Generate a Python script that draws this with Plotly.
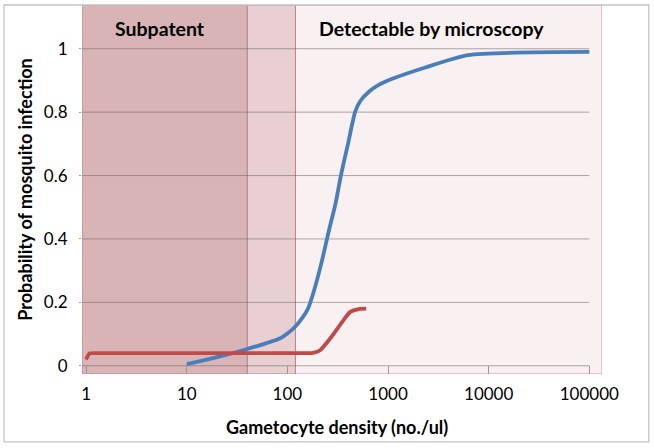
import numpy as np
import plotly.graph_objects as pgo

# gametocyte density (no./ul) vs probability of mosquito infection
blue_x = [10, 20, 40, 85, 100, 120, 140, 160, 185, 220, 260, 300, 340, 400,
          470, 530, 650, 800, 1100, 2300, 6200, 100000]
blue_y = [0.005, 0.027, 0.053, 0.087, 0.102, 0.124, 0.15, 0.18, 0.24, 0.33,
          0.43, 0.51, 0.6, 0.7, 0.8, 0.835, 0.865, 0.885, 0.905, 0.94, 0.98,
          0.99]

red_x = [1, 1.08, 1.3, 10, 100, 180, 210, 266, 361, 421, 509, 607]
red_y = [0.02, 0.039, 0.04, 0.04, 0.04, 0.041, 0.048, 0.086, 0.144, 0.17,
         0.179, 0.18]

# density bands: subpatent / intermediate / detectable by microscopy
band_edges = [40, 120]
band_labels = ['Subpatent', 'Detectable by microscopy']

x_ticks = [1, 10, 100, 1000, 10000, 100000]
x_ticktext = ['1', '10', '100', '1000', '10000', '100000']
y_ticks = [0, 0.2, 0.4, 0.6, 0.8, 1]
y_ticktext = ['0', '0.2', '0.4', '0.6', '0.8', '1']

x_lo, x_hi = 0.91, 133600
y_lo, y_hi = -0.026, 1.138

FONT = 'Lato'
BLUE = '#4a7ebb'
RED = '#be4b48'

fig = pgo.Figure()

# shaded bands (light one first so the darker borders sit on top)
fig.add_shape(type='rect', xref='x', yref='y', layer='below',
              x0=band_edges[1], x1=x_hi, y0=y_lo, y1=y_hi,
              fillcolor='#f8f0f1', line=dict(color='#e0939b', width=1))
fig.add_shape(type='rect', xref='x', yref='y', layer='below',
              x0=x_lo, x1=band_edges[0], y0=y_lo, y1=y_hi,
              fillcolor='#d8b4b6', line=dict(color='#b9868b', width=1))
fig.add_shape(type='rect', xref='x', yref='y', layer='below',
              x0=band_edges[0], x1=band_edges[1], y0=y_lo, y1=y_hi,
              fillcolor='#e8d0d2', line=dict(color='#b9868b', width=1))

# gridlines from 1 to 100000 only
for yv in y_ticks:
    fig.add_shape(type='line', xref='x', yref='y', layer='below',
                  x0=x_lo, x1=x_ticks[-1], y0=yv, y1=yv,
                  line=dict(color='rgba(110,100,100,0.55)', width=1))

# outer chart frame
fig.add_shape(type='rect', xref='paper', yref='paper',
              x0=-0.150, x1=1.090, y0=-0.184, y1=1.0,
              line=dict(color='#c4c4c4', width=1.3), fillcolor='rgba(0,0,0,0)')

fig.add_trace(pgo.Scatter(x=blue_x, y=blue_y, mode='lines',
                          line=dict(color=BLUE, width=3.8, shape='spline',
                                    smoothing=0.6),
                          showlegend=False))
fig.add_trace(pgo.Scatter(x=red_x, y=red_y, mode='lines',
                          line=dict(color=RED, width=3.8, shape='spline',
                                    smoothing=0.5),
                          showlegend=False))

for lab, xp in zip(band_labels, [0.150, 0.672]):
    fig.add_annotation(text='<b>' + lab + '</b>', xref='paper', yref='paper',
                       x=xp, y=0.935, xanchor='center', yanchor='middle',
                       showarrow=False,
                       font=dict(family=FONT, size=19.5, color='black'))

# x title as annotation (sits slightly left of plot centre)
fig.add_annotation(text='<b>Gametocyte density (no./ul)</b>',
                   xref='paper', yref='paper', x=0.491, y=-0.1436,
                   xanchor='center', yanchor='middle', showarrow=False,
                   font=dict(family=FONT, size=18, color='black'))

fig.update_xaxes(type='log', range=[np.log10(x_lo), np.log10(x_hi)],
                 tickvals=x_ticks, ticktext=x_ticktext,
                 ticks='inside', ticklen=8, tickcolor='#999999',
                 showgrid=False, zeroline=False, showline=False,
                 automargin=False, ticklabelstandoff=8,
                 tickfont=dict(family=FONT, size=17, color='black'))
fig.update_yaxes(range=[y_lo, y_hi], tickvals=y_ticks, ticktext=y_ticktext,
                 ticks='outside', ticklen=2, tickcolor='#999999',
                 showgrid=False, zeroline=False, showline=False,
                 automargin=False, ticklabelstandoff=8,
                 tickfont=dict(family=FONT, size=17, color='black'),
                 title=dict(text='<b>Probability of mosquito infection</b>',
                            font=dict(family=FONT, size=18, color='black'),
                            standoff=6))

fig.update_layout(width=654, height=448,
                  margin=dict(l=82, r=52, t=5, b=74),
                  paper_bgcolor='white', plot_bgcolor='white',
                  font=dict(family=FONT))

# drop the default 8px page margin so the figure fills the window
fig.write_html('out.html', config={'displayModeBar': False},
               post_script="document.body.style.margin='0px';")
